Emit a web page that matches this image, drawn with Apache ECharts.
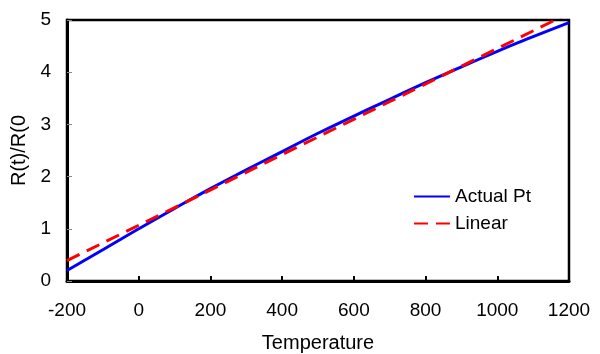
<!DOCTYPE html>
<html>
<head>
<meta charset="utf-8">
<script src="https://cdn.jsdelivr.net/npm/echarts@6/dist/echarts.min.js"></script>
<style>
html, body { margin: 0; padding: 0; background: #fff; }
#chart { width: 600px; height: 354px; }
</style>
</head>
<body>
<div id="chart"></div>
<script>
// 数据
const temps = [-200, -100, 0, 100, 200, 300, 400, 500, 600, 700, 800, 900, 1000, 1100, 1200]
const actualPt = [0.20, 0.60, 1.00, 1.39, 1.77, 2.13, 2.48, 2.83, 3.16, 3.48, 3.80, 4.10, 4.40, 4.68, 4.95]
const linearT = [-200, 1200]
const linearR = [0.39, 5.13]

const font = 'Liberation Sans, Arial, sans-serif'

const chart = echarts.init(document.getElementById('chart'))

chart.setOption({
    animation: false,
    grid: {// 绘图区
        left: 67,
        right: 31,
        top: 20,
        bottom: 73,
        outerBoundsMode: 'none',// 不自动缩放绘图区
        show: true,
        borderColor: '#000',
        borderWidth: 2.5
    },
    legend: {
        right: 64,
        top: 182,
        orient: 'vertical',
        itemWidth: 36,
        itemHeight: 10,
        itemGap: 8,
        itemStyle: { opacity: 0 },// 图例只画线，不画点
        textStyle: { fontFamily: font, fontSize: 19, color: '#000' },
        data: ['Actual Pt', 'Linear']
    },
    xAxis: {
        type: 'value',
        min: -200,
        max: 1200,
        interval: 200,
        name: 'Temperature',
        nameLocation: 'middle',
        nameGap: 52,
        nameTextStyle: { fontFamily: font, fontSize: 20, color: '#000' },
        axisLine: { onZero: false, lineStyle: { color: '#000', width: 3 } },
        axisTick: { show: true, inside: true, length: 5, lineStyle: { color: '#000', width: 2 } },
        axisLabel: { fontFamily: font, fontSize: 19, color: '#000', margin: 20, formatter: v => String(v) },
        splitLine: { show: false }
    },
    yAxis: {
        type: 'value',
        min: 0,
        max: 5,
        interval: 1,
        name: 'R(t)/R(0',
        nameLocation: 'middle',
        nameGap: 27,
        nameTextStyle: { fontFamily: font, fontSize: 20, color: '#000' },
        axisLine: { onZero: false, lineStyle: { color: '#000', width: 3 } },
        axisTick: { show: true, inside: true, length: 5, lineStyle: { color: '#888', width: 1 } },
        axisLabel: { fontFamily: font, fontSize: 19, color: '#000', margin: 16 },
        splitLine: { show: false }
    },
    series: [{
        name: 'Actual Pt',
        type: 'line',
        showSymbol: false,
        symbol: 'none',
        smooth: true,
        data: temps.map((t, i) => [t, actualPt[i]]),
        lineStyle: { color: '#0000ff', width: 3 },
        itemStyle: { color: '#0000ff' }
    }, {
        name: 'Linear',
        type: 'line',
        showSymbol: false,
        symbol: 'none',
        data: linearT.map((t, i) => [t, linearR[i]]),
        lineStyle: { color: '#ff0000', width: 3, type: [14, 8] },
        itemStyle: { color: '#ff0000' }
    }]
})
</script>
</body>
</html>
